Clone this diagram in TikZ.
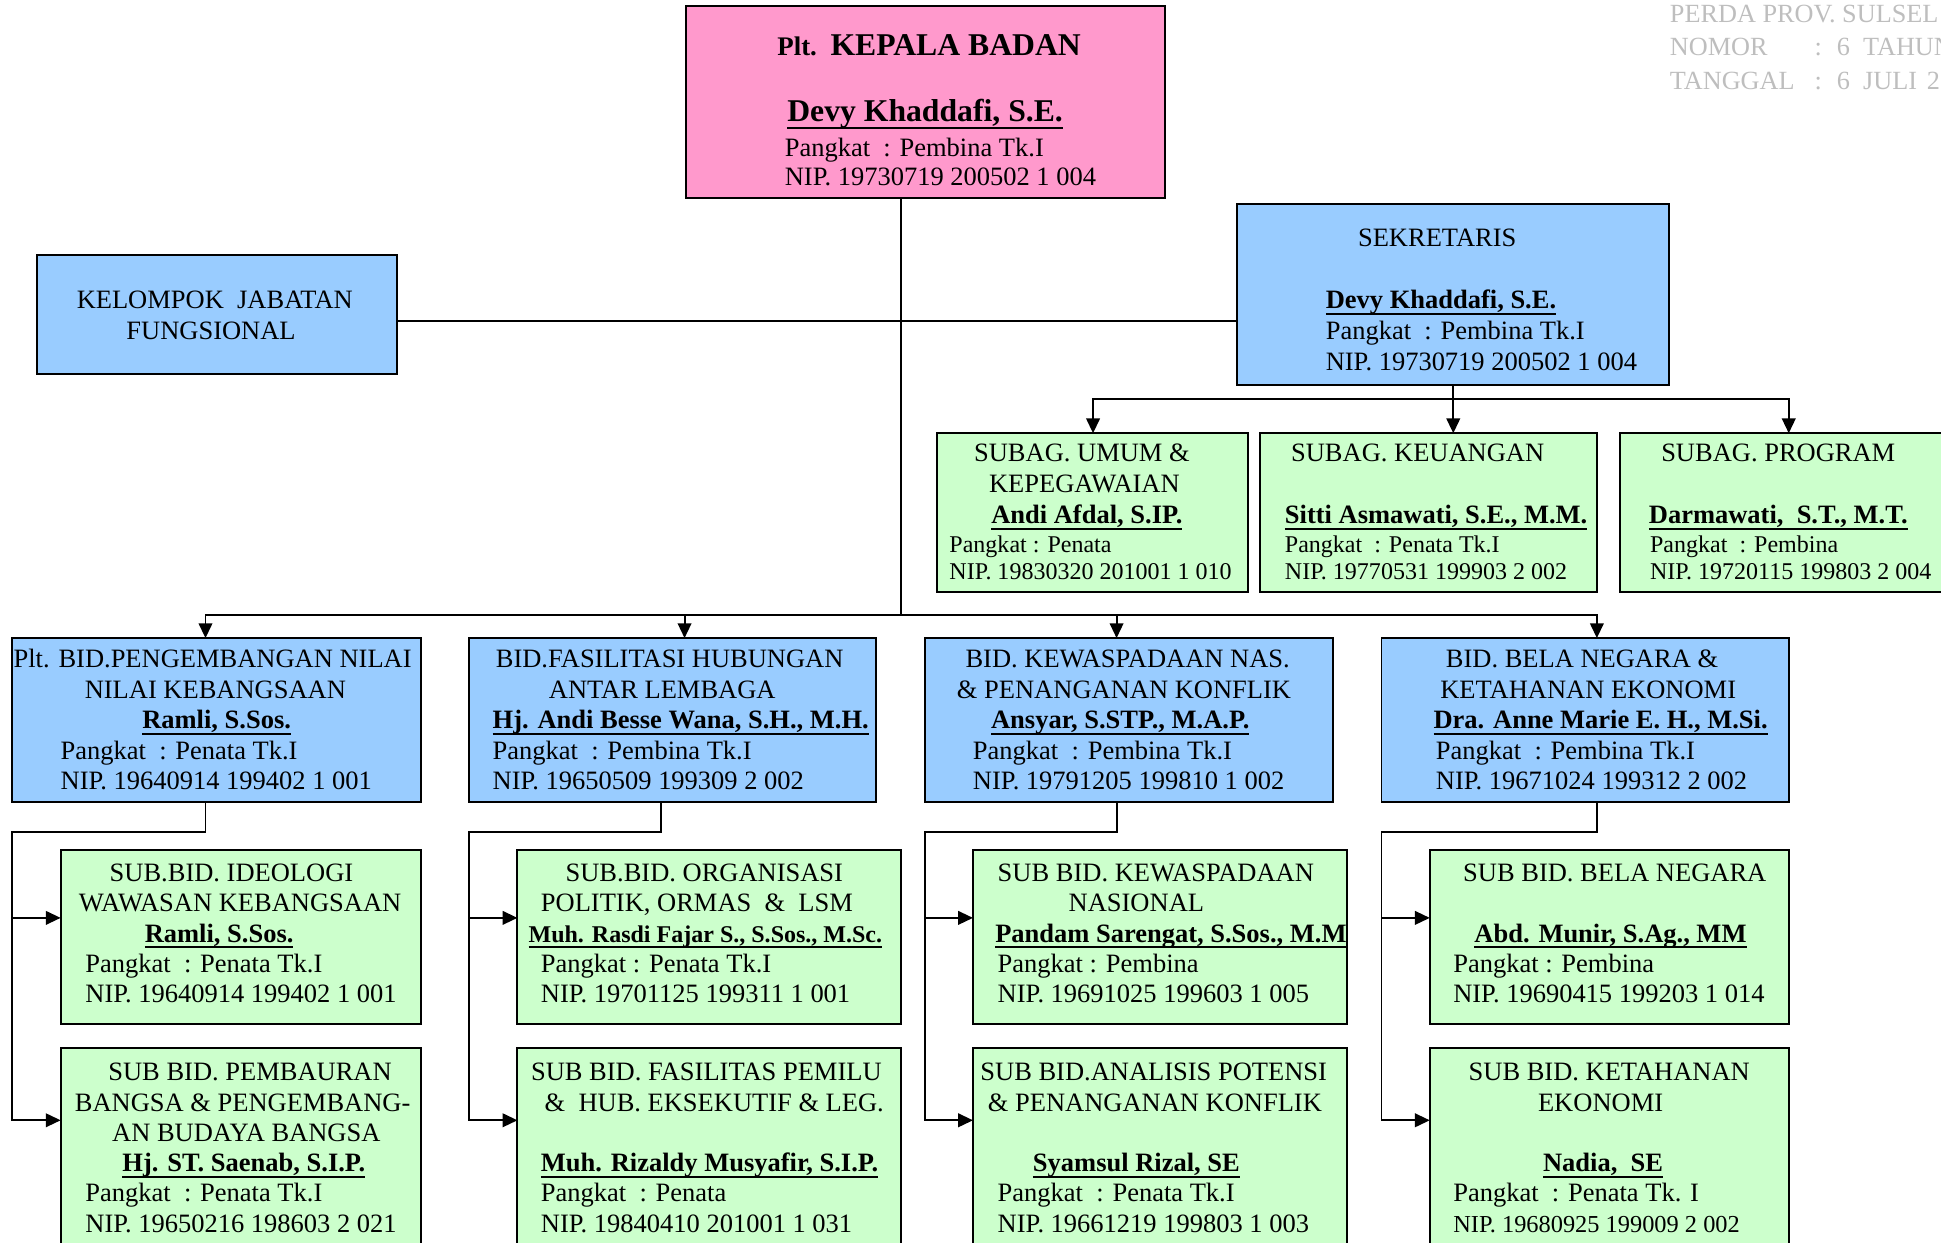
\documentclass[tikz,border=0pt]{standalone}
\usepackage{fontspec}
\setmainfont{Liberation Serif}
\usetikzlibrary{arrows.meta}
\definecolor{pinkc}{RGB}{255,153,204}
\definecolor{bluec}{RGB}{153,204,255}
\definecolor{greenc}{RGB}{204,255,204}
\definecolor{hdrc}{RGB}{190,190,190}
\newcount\tncount
\newcommand\bodyf{\fontsize{10.7}{12.5}\selectfont}
\newcommand\smallf{\fontsize{9.7}{11.5}\selectfont}
\newcommand\smallerf{\fontsize{9.85}{11.5}\selectfont}
\newcommand\bigf{\fontsize{12.8}{15}\selectfont}
\newcommand\tline[4]{\global\advance\tncount by 1\relax\node[#1] (t\the\tncount) at (#2,#3) {#4};}
\newcommand\obox[6]{\node[#2, minimum width={0.5pt*(#5-#3)}, minimum height={0.5pt*(#6-#4)}] (#1) at ({(#3+#5)/2},{(#4+#6)/2}) {};}
\begin{document}
\begin{tikzpicture}[x=0.5pt,y=-0.5pt,
  box/.style={draw=black, line width=0.8pt, inner sep=0pt, outer sep=0pt},
  pinkb/.style={box, fill=pinkc},
  blueb/.style={box, fill=bluec},
  greenb/.style={box, fill=greenc},
  tx/.style={inner sep=0pt, outer sep=0pt, font=\bodyf, text=black},
  L/.style={tx, anchor=base west},
  C/.style={tx, anchor=base},
  sm/.style={font=\smallf},
  smr/.style={font=\smallerf},
  ul/.style={append after command={([yshift=-#1]\tikzlastnode.base west) edge[draw=black, line width=0.8pt] ([yshift=-#1]\tikzlastnode.base east)}},
  ul/.default=2.2pt,
  nm/.style={font=\bodyf\bfseries, ul},
  nmsm/.style={font=\smallf\bfseries, ul=2pt},
  nmbig/.style={font=\bigf\bfseries, ul=2.5pt},
  tb/.style={font=\bigf\bfseries},
  hdr/.style={font=\fontsize{10.6}{12.5}\selectfont, text=hdrc},
  conn/.style={line width=0.8pt, draw=black},
  arr/.style={conn, -{Triangle[length=6pt,width=5.5pt]}},
  arrb/.style={conn, {Triangle[length=6pt,width=5.5pt]}-{Triangle[length=6pt,width=5.5pt]}}
]
\useasboundingbox (0,0) rectangle (1568,1004);
\clip (0,0) rectangle (1568,1004);

% ---------- boxes ----------
\obox{top}{pinkb}{554}{5}{941}{160}
\obox{kjf}{blueb}{30}{206}{321}{302}
\obox{sek}{blueb}{999}{165}{1348}{311}
\obox{sa1}{greenb}{757}{350}{1008}{478}
\obox{sa2}{greenb}{1018}{350}{1290}{478}
\obox{sa3}{greenb}{1309}{350}{1590}{478}
\obox{b1}{blueb}{10}{515.5}{340}{647.5}
\obox{b2}{blueb}{379}{515.5}{708}{647.5}
\obox{b3}{blueb}{747}{515.5}{1077}{647.5}
\obox{b4}{blueb}{1116}{515.5}{1445}{647.5}
\obox{s11}{greenb}{49}{687}{340}{827}
\obox{s12}{greenb}{49}{847}{340}{1015}
\obox{s21}{greenb}{418}{687}{728}{827}
\obox{s22}{greenb}{418}{847}{728}{1015}
\obox{s31}{greenb}{786}{687}{1088}{827}
\obox{s32}{greenb}{786}{847}{1088}{1015}
\obox{s41}{greenb}{1155}{687}{1445}{827}
\obox{s42}{greenb}{1155}{847}{1445}{1015}

% ---------- connectors ----------
\coordinate (tr) at (728,497);
\coordinate (hz) at (728,259);
\draw[conn] (top.south -| tr) -- (tr);
\draw[conn] (kjf.east |- hz) -- (sek.west |- hz);

\coordinate (d1) at (166,497);
\coordinate (d2) at (553,497);
\coordinate (d3) at (902,497);
\coordinate (d4) at (1290,497);
\draw[arrb] (b1.north -| d1) -- (d1) -- (d4) -- (b4.north -| d4);
\draw[arr] (d2) -- (b2.north -| d2);
\draw[arr] (d3) -- (b3.north -| d3);

\coordinate (q1) at (883,322);
\coordinate (q2) at (1174,322);
\coordinate (q3) at (1445,322);
\draw[arrb] (sa1.north -| q1) -- (q1) -- (q3) -- (sa3.north -| q3);
\draw[arr] (sek.south -| q2) -- (sa2.north -| q2);

\foreach \i/\xc/\xr in {1/166/10, 2/534/379, 3/902/747, 4/1290/1116}{
  \coordinate (e\i) at (\xc,672);
  \coordinate (r\i) at (\xr,672);
  \coordinate (u\i) at (\xr,741.5);
  \coordinate (v\i) at (\xr,905);
  \draw[arr] (b\i.south -| e\i) -- (e\i) -- (r\i) -- (v\i) -- (s\i2.west |- v\i);
  \draw[arr] (u\i) -- (s\i1.west |- u\i);
}

% ---------- header ----------
\tline{L,hdr}{1349}{18}{PERDA PROV. SULSEL}
\tline{L,hdr}{1349}{45}{\makebox[58.5pt][l]{NOMOR}:\hspace{6pt}6\hspace{5.3pt}TAHUN}
\tline{L,hdr}{1349}{72}{\makebox[58.5pt][l]{TANGGAL}:\hspace{6pt}6\hspace{5.3pt}JULI\hspace{4pt}2}

% ---------- top ----------
\tline{L,tb}{628}{44.5}{{\fontsize{10.85}{13}\selectfont Plt.}\hspace{5.5pt}KEPALA BADAN}
\tline{L,nmbig}{636}{98.5}{Devy Khaddafi, S.E.}
\tline{L}{634}{126.5}{Pangkat\ \ : Pembina Tk.I}
\tline{L}{634}{149.5}{NIP. 19730719 200502 1 004}

% ---------- kelompok ----------
\tline{C}{173.5}{249}{KELOMPOK\ \ JABATAN}
\tline{C}{170.5}{274}{FUNGSIONAL}

% ---------- sekretaris ----------
\tline{C}{1161}{199}{SEKRETARIS}
\tline{L,nm}{1071}{249}{Devy Khaddafi, S.E.}
\tline{L}{1071}{274}{Pangkat\ \ : Pembina Tk.I}
\tline{L}{1071}{299}{NIP. 19730719 200502 1 004}

% ---------- subag ----------
\tline{C}{874}{373}{SUBAG. UMUM \&}
\tline{C}{876}{398}{KEPEGAWAIAN}
\tline{C,nm}{878}{423}{Andi Afdal, S.IP.}
\tline{L,sm}{767}{446}{Pangkat : Penata}
\tline{L,sm}{767}{468}{NIP. 19830320 201001 1 010}

\tline{L}{1043}{373}{SUBAG. KEUANGAN}
\tline{L,nm}{1038}{423}{Sitti Asmawati, S.E., M.M.}
\tline{L,sm}{1038}{446}{Pangkat\ \ : Penata Tk.I}
\tline{L,sm}{1038}{468}{NIP. 19770531 199903 2 002}

\tline{L}{1342}{373}{SUBAG. PROGRAM}
\tline{L,nm}{1332}{423}{Darmawati,\ \ S.T., M.T.}
\tline{L,sm}{1333}{446}{Pangkat\ \ : Pembina}
\tline{L,sm}{1333}{468}{NIP. 19720115 199803 2 004}

% ---------- bidang ----------
\tline{L}{11}{539.5}{Plt. BID.PENGEMBANGAN NILAI}
\tline{C}{174}{564}{NILAI KEBANGSAAN}
\tline{C,nm}{175}{588.5}{Ramli, S.Sos.}
\tline{L}{49}{613.5}{Pangkat\ \ : Penata Tk.I}
\tline{L}{49}{638}{NIP. 19640914 199402 1 001}

\tline{C}{541}{539.5}{BID.FASILITASI HUBUNGAN}
\tline{C}{535}{564}{ANTAR LEMBAGA}
\tline{L,nm}{398}{588.5}{Hj. Andi Besse Wana, S.H., M.H.}
\tline{L}{398}{613.5}{Pangkat\ \ : Pembina Tk.I}
\tline{L}{398}{638}{NIP. 19650509 199309 2 002}

\tline{C}{911}{539.5}{BID. KEWASPADAAN NAS.}
\tline{C}{908}{564}{\& PENANGANAN KONFLIK}
\tline{C,nm}{905}{588.5}{Ansyar, S.STP., M.A.P.}
\tline{L}{786}{613.5}{Pangkat\ \ : Pembina Tk.I}
\tline{L}{786}{638}{NIP. 19791205 199810 1 002}

\tline{C}{1278}{539.5}{BID. BELA NEGARA \&}
\tline{C}{1283}{564}{KETAHANAN EKONOMI}
\tline{C,nm}{1293}{588.5}{Dra. Anne Marie E. H., M.Si.}
\tline{L}{1160}{613.5}{Pangkat\ \ : Pembina Tk.I}
\tline{L}{1160}{638}{NIP. 19671024 199312 2 002}

% ---------- sub bidang col 1 ----------
\tline{C}{187}{712}{SUB.BID. IDEOLOGI}
\tline{C}{194}{736.5}{WAWASAN KEBANGSAAN}
\tline{C,nm}{177}{761}{Ramli, S.Sos.}
\tline{L}{69}{785.5}{Pangkat\ \ : Penata Tk.I}
\tline{L}{69}{810}{NIP. 19640914 199402 1 001}

\tline{C}{202}{873}{SUB BID. PEMBAURAN}
\tline{C}{196}{897.5}{BANGSA \& PENGEMBANG-}
\tline{C}{199}{922}{AN BUDAYA BANGSA}
\tline{C,nm}{197}{946.5}{Hj. ST. Saenab, S.I.P.}
\tline{L}{69}{971}{Pangkat\ \ : Penata Tk.I}
\tline{L}{69}{995.5}{NIP. 19650216 198603 2 021}

% ---------- col 2 ----------
\tline{C}{569}{712}{SUB.BID. ORGANISASI}
\tline{C}{563}{736.5}{POLITIK, ORMAS\ \ \&\ \ LSM}
\tline{L,nmsm}{427}{761}{Muh. Rasdi Fajar S., S.Sos., M.Sc.}
\tline{L}{437}{785.5}{Pangkat : Penata Tk.I}
\tline{L}{437}{810}{NIP. 19701125 199311 1 001}

\tline{L}{429}{873}{SUB BID. FASILITAS PEMILU}
\tline{C}{577}{897.5}{\&\ \ HUB. EKSEKUTIF \& LEG.}
\tline{L,nm}{437}{946.5}{Muh. Rizaldy Musyafir, S.I.P.}
\tline{L}{437}{971}{Pangkat\ \ : Penata}
\tline{L}{437}{995.5}{NIP. 19840410 201001 1 031}

% ---------- col 3 ----------
\tline{L}{806}{712}{SUB BID. KEWASPADAAN}
\tline{C}{918}{736.5}{NASIONAL}
\tline{L,nm}{804}{761}{Pandam Sarengat, S.Sos., M.M}
\tline{L}{806}{785.5}{Pangkat : Pembina}
\tline{L}{806}{810}{NIP. 19691025 199603 1 005}

\tline{L}{792}{873}{SUB BID.ANALISIS POTENSI}
\tline{C}{933}{897.5}{\& PENANGANAN KONFLIK}
\tline{C,nm}{918}{946.5}{Syamsul Rizal, SE}
\tline{L}{806}{971}{Pangkat\ \ : Penata Tk.I}
\tline{L}{806}{995.5}{NIP. 19661219 199803 1 003}

% ---------- col 4 ----------
\tline{L}{1182}{712}{SUB BID. BELA NEGARA}
\tline{C,nm}{1301}{761}{Abd. Munir, S.Ag., MM}
\tline{L}{1174}{785.5}{Pangkat : Pembina}
\tline{L}{1174}{810}{NIP. 19690415 199203 1 014}

\tline{C}{1300}{873}{SUB BID. KETAHANAN}
\tline{C}{1293}{897.5}{EKONOMI}
\tline{C,nm}{1295}{946.5}{Nadia,\ \ SE}
\tline{L}{1174}{971}{Pangkat\ \ : Penata Tk. I}
\tline{L,smr}{1174}{995.5}{NIP. 19680925 199009 2 002}
\end{tikzpicture}
\end{document}
